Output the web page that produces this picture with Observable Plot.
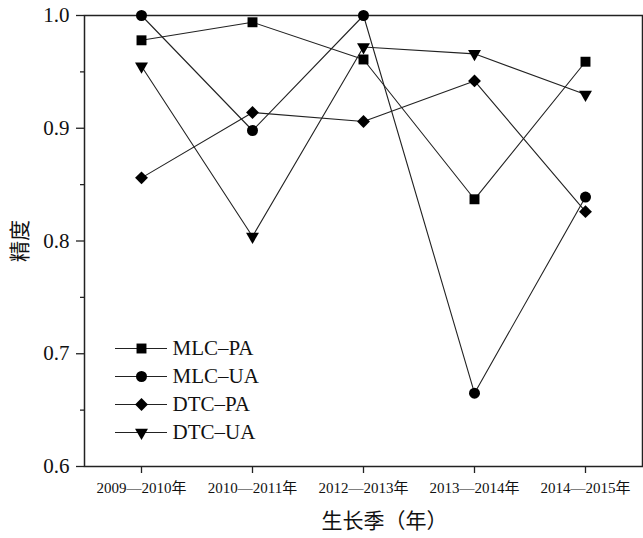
<!DOCTYPE html>
<html>
<head>
<meta charset="utf-8">
<script src="https://cdn.jsdelivr.net/npm/d3@7"></script>
<script src="https://cdn.jsdelivr.net/npm/@observablehq/plot@0.6"></script>
<style>
  html, body { margin: 0; padding: 0; background: #fff; }
  #wrap { position: relative; width: 643px; height: 538px; }
  #legend { position: absolute; left: 100px; top: 330px; }
</style>
</head>
<body>
<div id="wrap"><div id="chart"></div><div id="legend"></div></div>
<script>
const categories = ["2009—2010年", "2010—2011年", "2012—2013年", "2013—2014年", "2014—2015年"];
const seriesNames = ["MLC–PA", "MLC–UA", "DTC–PA", "DTC–UA"];
const mlcPA = [0.978, 0.994, 0.961, 0.837, 0.959];
const mlcUA = [1.000, 0.898, 1.000, 0.665, 0.839];
const dtcPA = [0.856, 0.914, 0.906, 0.942, 0.826];
const dtcUA = [0.955, 0.804, 0.972, 0.966, 0.930];
const yTicks = [0.6, 0.7, 0.8, 0.9, 1.0];
const yMinorTicks = [0.65, 0.75, 0.85, 0.95];
const xLabel = "生长季（年）";
const yLabel = "精度";

const seriesValues = [mlcPA, mlcUA, dtcPA, dtcUA];
const data = seriesNames.flatMap((s, i) =>
  categories.map((c, j) => ({series: s, cat: c, value: seriesValues[i][j]})));

const styles = {
  "MLC–PA": {symbol: "square", r: 5.6, rotate: 0},
  "MLC–UA": {symbol: "circle", r: 5.5, rotate: 0},
  "DTC–PA": {symbol: "diamond2", r: 5.8, rotate: 0},
  "DTC–UA": {symbol: "triangle", r: 4.8, rotate: 180}
};
const serif = "'Liberation Serif', 'Times New Roman', 'Noto Sans CJK SC', serif";
const cjk = "'Noto Sans CJK SC', sans-serif";
const ink = "#222";

const dotMarks = seriesNames.map(s => Plot.dot(data.filter(d => d.series === s), {
  x: "cat", y: "value", symbol: styles[s].symbol, r: styles[s].r, rotate: styles[s].rotate,
  fill: "#000", stroke: "none"
}));

const chart = Plot.plot({
  width: 643, height: 538,
  marginLeft: 84, marginRight: 1, marginTop: 15, marginBottom: 72,
  x: {type: "point", domain: categories, padding: 0.5},
  y: {domain: [0.6, 1.0]},
  style: {fontFamily: serif, color: "#111", background: "#fff"},
  marks: [
    Plot.axisY({ticks: yTicks, tickFormat: d3.format(".1f"), tickSize: 8, tickPadding: 7,
      fontSize: 21, label: null, stroke: ink, strokeWidth: 1.3}),
    Plot.axisY({ticks: yMinorTicks, tickFormat: () => "", tickSize: 4, label: null, stroke: ink, strokeWidth: 1.3}),
    Plot.axisY({ticks: [], label: yLabel, labelAnchor: "center", labelArrow: "none", labelOffset: 72,
      fontSize: 21, fontFamily: cjk}),
    Plot.axisX({tickSize: 7, tickPadding: 9, fontSize: 15, label: null, stroke: ink, strokeWidth: 1.3}),
    Plot.text([xLabel], {text: d => d, frameAnchor: "bottom", dx: 21, dy: 55, lineAnchor: "middle",
      fontSize: 21, fontFamily: cjk, fill: "#111"}),
    Plot.frame({stroke: ink, strokeWidth: 1.5}),
    Plot.line(data, {x: "cat", y: "value", z: "series", stroke: ink, strokeWidth: 1.1}),
    ...dotMarks
  ]
});
document.getElementById("chart").appendChild(chart);

const legendRows = seriesNames.map(s => ({name: s}));
const legend = Plot.plot({
  width: 180, height: 115, margin: 0,
  x: {domain: [0, 1], range: [15, 67], axis: null},
  y: {type: "point", domain: seriesNames, range: [17, 102], padding: 0, axis: null},
  style: {fontFamily: serif, background: "transparent"},
  marks: [
    Plot.ruleY(legendRows, {y: "name", x1: () => 0, x2: () => 1, stroke: ink, strokeWidth: 1.1}),
    ...seriesNames.map(s => Plot.dot(legendRows.filter(d => d.name === s), {
      x: () => 0.5, y: "name", symbol: styles[s].symbol, r: styles[s].r, rotate: styles[s].rotate,
      fill: "#000", stroke: "none"})),
    Plot.text(legendRows, {x: () => 1, y: "name", text: "name", dx: 5, textAnchor: "start",
      fontSize: 21, fill: "#111"})
  ]
});
document.getElementById("legend").appendChild(legend);
</script>
</body>
</html>
